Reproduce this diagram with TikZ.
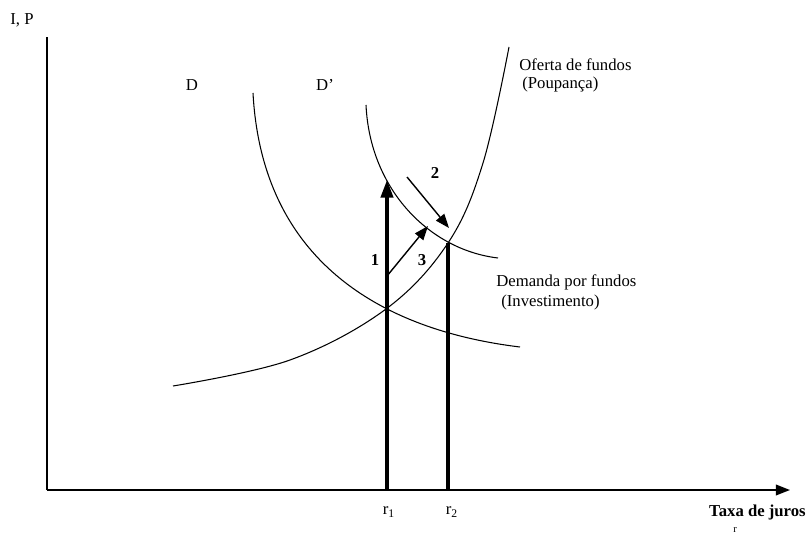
\documentclass[tikz,border=0pt]{standalone}
\usepackage{fontspec}
\setmainfont{Liberation Serif}
\usetikzlibrary{arrows.meta}
\tikzset{lbl/.style={inner sep=0pt,font=\fontsize{9.5}{11}\selectfont},
num/.style={lbl,font=\fontsize{9.5}{11}\selectfont\bfseries},
curve/.style={line width=0.6pt},
thickline/.style={line width=1.8pt},
tip/.style={-{Triangle[length=8pt,width=6pt]}}}
\begin{document}
\begin{tikzpicture}[x=0.02cm,y=-0.02cm]
\useasboundingbox (0,0) rectangle (807,540);
\coordinate (O) at (47,490);
\coordinate (ytop) at (47,37);
\coordinate (xend) at (790,490);
\coordinate (E1) at (386,309);
\coordinate (E2) at (448,243);
\coordinate (r1base) at (387,490);
\coordinate (r1top) at (387,180);
\coordinate (r2base) at (448,490);
\coordinate (a3s) at (387,276);
\coordinate (a3e) at (428,226);
\coordinate (a2s) at (407,177);
\coordinate (a2e) at (449,228);
\draw[line width=1pt](O)--(ytop);
\draw[line width=1pt,tip](O)--(xend);
\draw[curve] plot[smooth,tension=0.6] coordinates{(173,386)(290,360)(E1)(E2)(483,163)(509,47)};
\draw[curve](253,93) .. controls (262,260) and (380,330) .. (520,347);
\draw[curve](366,105) .. controls (370,190) and (430,250) .. (498,258);
\draw[thickline,-{Triangle[length=10pt,width=7pt]}](r1base)--(r1top);
\draw[thickline](r2base)--(E2);
\draw[line width=0.8pt,tip](a3s)--(a3e);
\draw[line width=0.8pt,tip](a2s)--(a2e);
\node[lbl] (ip) at (22,20) {I, P};
\node[lbl] (dlab) at (192,85) {D};
\node[lbl] (dplab) at (325,85) {D\textquoteright};
\node[lbl,anchor=west] (oferta) at (519,65) {Oferta de fundos};
\node[lbl,anchor=west] (poup) at (522,84) {(Poupança)};
\node[lbl,anchor=west] (demanda) at (496,282) {Demanda por fundos};
\node[lbl,anchor=west] (invest) at (501,302) {(Investimento)};
\node[num] (n1) at (375,260) {1};
\node[num] (n2) at (435,173) {2};
\node[num] (n3) at (422,260) {3};
\node[lbl] (r1) at (389,512) {r\textsubscript{1}};
\node[lbl] (r2) at (452,512) {r\textsubscript{2}};
\node[num,anchor=east] (taxa) at (806,512) {Taxa de juros};
\node[lbl,font=\fontsize{6}{7}\selectfont] (rsmall) at (735,530) {r};
\end{tikzpicture}
\end{document}
